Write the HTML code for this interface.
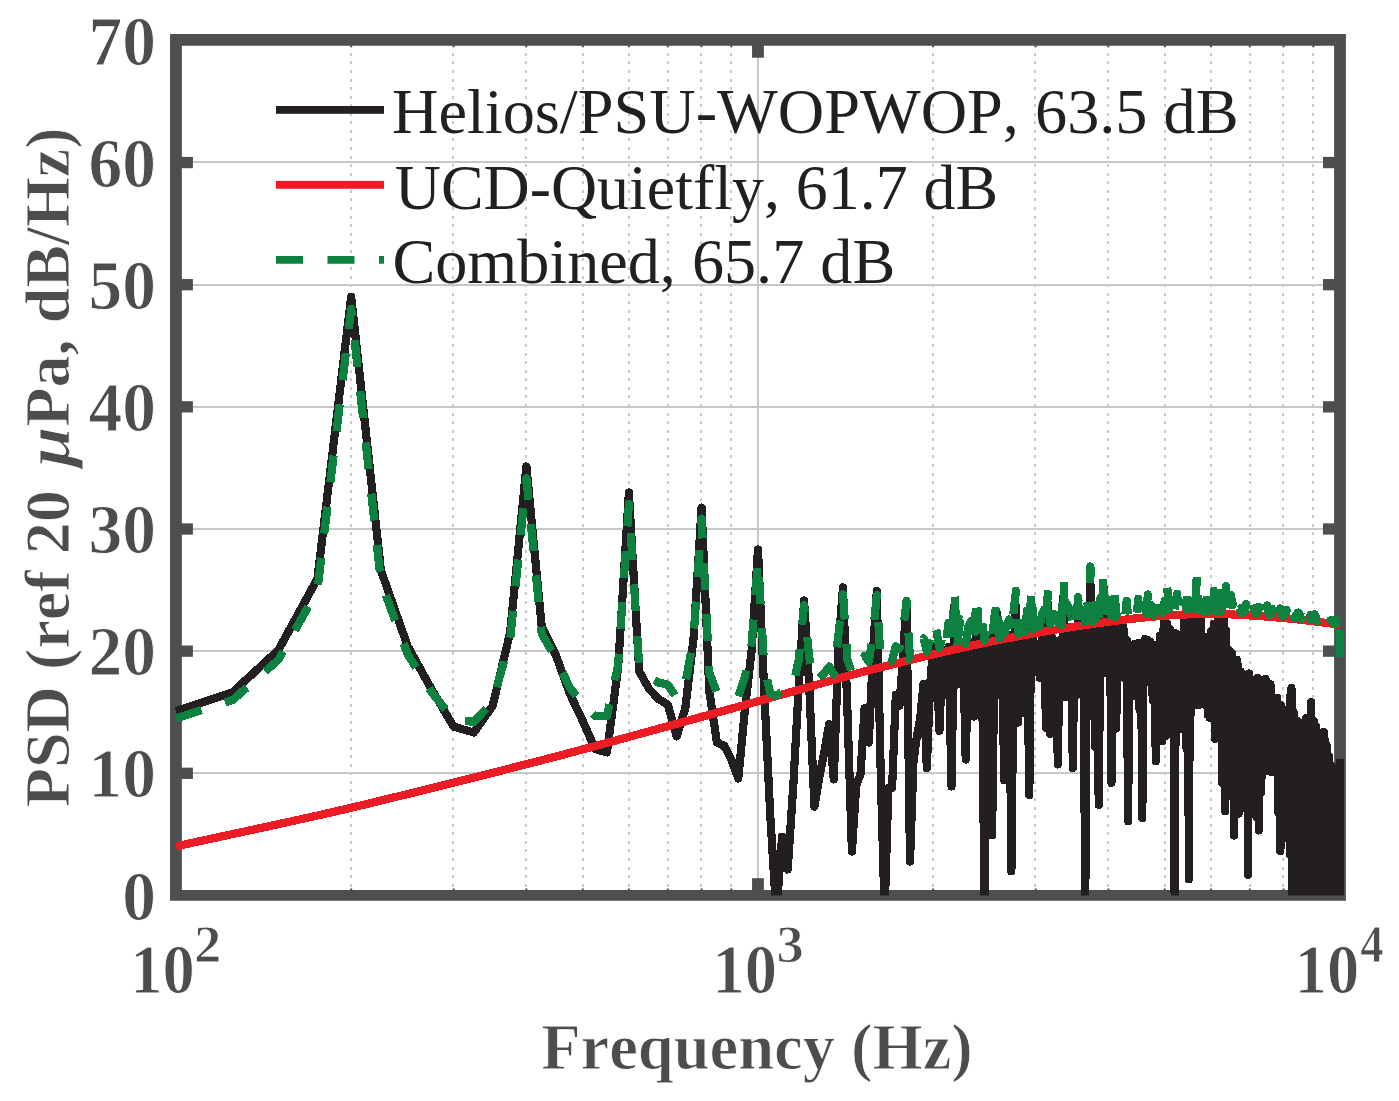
<!DOCTYPE html>
<html><head><meta charset="utf-8"><title>PSD</title>
<style>html,body{margin:0;padding:0;background:#fff}svg{display:block}</style></head>
<body><svg width="1399" height="1101" viewBox="0 0 1399 1101">
<rect width="1399" height="1101" fill="#fff"/>
<rect x="182" y="161" width="1152" height="2" fill="#c6c7c9"/>
<rect x="182" y="284" width="1152" height="2" fill="#c6c7c9"/>
<rect x="182" y="406" width="1152" height="2" fill="#c6c7c9"/>
<rect x="182" y="528" width="1152" height="2" fill="#c6c7c9"/>
<rect x="182" y="650" width="1152" height="2" fill="#c6c7c9"/>
<rect x="182" y="772" width="1152" height="2" fill="#c6c7c9"/>
<rect x="757" y="45" width="2" height="846" fill="#c6c7c9"/>
<line x1="351" y1="895.2" x2="351" y2="40" stroke="#c9cacc" stroke-width="2" stroke-dasharray="3 5.565" shape-rendering="crispEdges"/>
<line x1="453" y1="895.2" x2="453" y2="40" stroke="#c9cacc" stroke-width="2" stroke-dasharray="3 5.565" shape-rendering="crispEdges"/>
<line x1="526" y1="895.2" x2="526" y2="40" stroke="#c9cacc" stroke-width="2" stroke-dasharray="3 5.565" shape-rendering="crispEdges"/>
<line x1="583" y1="895.2" x2="583" y2="40" stroke="#c9cacc" stroke-width="2" stroke-dasharray="3 5.565" shape-rendering="crispEdges"/>
<line x1="629" y1="895.2" x2="629" y2="40" stroke="#c9cacc" stroke-width="2" stroke-dasharray="3 5.565" shape-rendering="crispEdges"/>
<line x1="668" y1="895.2" x2="668" y2="40" stroke="#c9cacc" stroke-width="2" stroke-dasharray="3 5.565" shape-rendering="crispEdges"/>
<line x1="701" y1="895.2" x2="701" y2="40" stroke="#c9cacc" stroke-width="2" stroke-dasharray="3 5.565" shape-rendering="crispEdges"/>
<line x1="731" y1="895.2" x2="731" y2="40" stroke="#c9cacc" stroke-width="2" stroke-dasharray="3 5.565" shape-rendering="crispEdges"/>
<line x1="933" y1="895.2" x2="933" y2="40" stroke="#c9cacc" stroke-width="2" stroke-dasharray="3 5.565" shape-rendering="crispEdges"/>
<line x1="1035" y1="895.2" x2="1035" y2="40" stroke="#c9cacc" stroke-width="2" stroke-dasharray="3 5.565" shape-rendering="crispEdges"/>
<line x1="1108" y1="895.2" x2="1108" y2="40" stroke="#c9cacc" stroke-width="2" stroke-dasharray="3 5.565" shape-rendering="crispEdges"/>
<line x1="1165" y1="895.2" x2="1165" y2="40" stroke="#c9cacc" stroke-width="2" stroke-dasharray="3 5.565" shape-rendering="crispEdges"/>
<line x1="1211" y1="895.2" x2="1211" y2="40" stroke="#c9cacc" stroke-width="2" stroke-dasharray="3 5.565" shape-rendering="crispEdges"/>
<line x1="1250" y1="895.2" x2="1250" y2="40" stroke="#c9cacc" stroke-width="2" stroke-dasharray="3 5.565" shape-rendering="crispEdges"/>
<line x1="1283" y1="895.2" x2="1283" y2="40" stroke="#c9cacc" stroke-width="2" stroke-dasharray="3 5.565" shape-rendering="crispEdges"/>
<line x1="1313" y1="895.2" x2="1313" y2="40" stroke="#c9cacc" stroke-width="2" stroke-dasharray="3 5.565" shape-rendering="crispEdges"/>
<path fill="#4d4e50" fill-rule="evenodd" d="M170.05,34.05H1345.9V900.8H170.05Z M181.85,45.85V890H1334.1V45.85Z"/>
<rect x="181" y="767.65" width="11.9" height="11.3" fill="#4d4e50"/>
<rect x="1323.0" y="767.65" width="11.9" height="11.3" fill="#4d4e50"/>
<rect x="181" y="645.50" width="11.9" height="11.3" fill="#4d4e50"/>
<rect x="1323.0" y="645.50" width="11.9" height="11.3" fill="#4d4e50"/>
<rect x="181" y="523.35" width="11.9" height="11.3" fill="#4d4e50"/>
<rect x="1323.0" y="523.35" width="11.9" height="11.3" fill="#4d4e50"/>
<rect x="181" y="401.20" width="11.9" height="11.3" fill="#4d4e50"/>
<rect x="1323.0" y="401.20" width="11.9" height="11.3" fill="#4d4e50"/>
<rect x="181" y="279.05" width="11.9" height="11.3" fill="#4d4e50"/>
<rect x="1323.0" y="279.05" width="11.9" height="11.3" fill="#4d4e50"/>
<rect x="181" y="156.90" width="11.9" height="11.3" fill="#4d4e50"/>
<rect x="1323.0" y="156.90" width="11.9" height="11.3" fill="#4d4e50"/>
<rect x="752.07" y="878.2" width="11.8" height="12.5" fill="#4d4e50"/>
<rect x="752.07" y="45" width="11.8" height="12.7" fill="#4d4e50"/>
<rect x="350.16" y="45.5" width="2" height="1.8" fill="#4d4e50"/>
<rect x="350.16" y="888.5" width="2" height="1.8" fill="#4d4e50"/>
<rect x="452.65" y="45.5" width="2" height="1.8" fill="#4d4e50"/>
<rect x="452.65" y="888.5" width="2" height="1.8" fill="#4d4e50"/>
<rect x="525.36" y="45.5" width="2" height="1.8" fill="#4d4e50"/>
<rect x="525.36" y="888.5" width="2" height="1.8" fill="#4d4e50"/>
<rect x="581.77" y="45.5" width="2" height="1.8" fill="#4d4e50"/>
<rect x="581.77" y="888.5" width="2" height="1.8" fill="#4d4e50"/>
<rect x="627.85" y="45.5" width="2" height="1.8" fill="#4d4e50"/>
<rect x="627.85" y="888.5" width="2" height="1.8" fill="#4d4e50"/>
<rect x="666.82" y="45.5" width="2" height="1.8" fill="#4d4e50"/>
<rect x="666.82" y="888.5" width="2" height="1.8" fill="#4d4e50"/>
<rect x="700.57" y="45.5" width="2" height="1.8" fill="#4d4e50"/>
<rect x="700.57" y="888.5" width="2" height="1.8" fill="#4d4e50"/>
<rect x="730.34" y="45.5" width="2" height="1.8" fill="#4d4e50"/>
<rect x="730.34" y="888.5" width="2" height="1.8" fill="#4d4e50"/>
<rect x="932.18" y="45.5" width="2" height="1.8" fill="#4d4e50"/>
<rect x="932.18" y="888.5" width="2" height="1.8" fill="#4d4e50"/>
<rect x="1034.67" y="45.5" width="2" height="1.8" fill="#4d4e50"/>
<rect x="1034.67" y="888.5" width="2" height="1.8" fill="#4d4e50"/>
<rect x="1107.39" y="45.5" width="2" height="1.8" fill="#4d4e50"/>
<rect x="1107.39" y="888.5" width="2" height="1.8" fill="#4d4e50"/>
<rect x="1163.79" y="45.5" width="2" height="1.8" fill="#4d4e50"/>
<rect x="1163.79" y="888.5" width="2" height="1.8" fill="#4d4e50"/>
<rect x="1209.88" y="45.5" width="2" height="1.8" fill="#4d4e50"/>
<rect x="1209.88" y="888.5" width="2" height="1.8" fill="#4d4e50"/>
<rect x="1248.84" y="45.5" width="2" height="1.8" fill="#4d4e50"/>
<rect x="1248.84" y="888.5" width="2" height="1.8" fill="#4d4e50"/>
<rect x="1282.60" y="45.5" width="2" height="1.8" fill="#4d4e50"/>
<rect x="1282.60" y="888.5" width="2" height="1.8" fill="#4d4e50"/>
<rect x="1312.37" y="45.5" width="2" height="1.8" fill="#4d4e50"/>
<rect x="1312.37" y="888.5" width="2" height="1.8" fill="#4d4e50"/>
<clipPath id="c"><rect x="168" y="30" width="1180" height="865.4"/></clipPath>
<g clip-path="url(#c)" fill="none" stroke-linejoin="round" stroke-linecap="butt" stroke-width="8.2" shape-rendering="crispEdges">
<path d="M175.9,711.1 L232.4,692.4 L278.4,650.0 L317.4,578.8 L351.2,296.7 L380.9,570.3 L407.6,646.0 L431.7,689.6 L453.6,726.6 L473.9,732.5 L492.6,705.9 L510.1,632.6 L526.4,466.5 L541.7,626.5 L556.1,655.8 L569.8,693.7 L582.8,721.0 L595.1,749.0 L606.9,752.4 L618.1,668.0 L628.9,492.5 L639.2,671.3 L649.1,689.0 L658.6,699.1 L667.8,704.6 L676.7,736.4 L685.3,708.3 L693.5,638.7 L701.6,507.6 L709.3,691.2 L716.9,742.5 L724.2,745.8 L731.3,759.6 L738.3,778.5 L745.0,708.3 L751.6,650.9 L758.0,549.5 L764.2,691.2 L770.3,815.8 L776.3,913.5 L782.1,836.6 L787.7,869.5 L793.3,785.3 L798.7,687.5 L804.1,600.5 L809.3,687.5 L814.4,806.6 L819.4,776.7 L824.3,751.8 L829.1,724.2 L833.8,779.5 L838.5,644.8 L843.0,587.4 L847.5,712.0 L851.9,851.6 L856.2,785.3 L860.5,774.3 L864.6,708.3 L868.8,742.5 L872.8,655.8 L876.8,591.0 L880.7,771.8 L884.6,913.5 L888.4,787.7 L892.1,787.7 L895.8,694.9 L899.4,705.9 L903.0,657.0 L906.5,602.0 L910.0,861.5 L913.5,760.8 L916.9,736.4 L920.2,718.1 L923.5,683.9 L926.8,768.2 L930.0,687.5 L933.2,646.0 L936.3,652.8 L939.4,730.9 L942.5,655.0 L945.5,652.1 L948.5,647.2 L951.5,786.5 L954.4,605.7 L957.3,684.6 L960.1,644.9 L963.0,643.3 L965.7,759.6 L968.5,648.9 L971.2,641.8 L973.9,716.6 L976.6,611.8 L979.3,705.1 L981.9,649.3 L984.5,913.5 L987.0,640.4 L989.6,638.2 L992.1,835.3 L994.6,643.4 L997.1,613.5 L999.5,694.7 L1001.9,654.9 L1004.3,780.4 L1006.7,635.6 L1009.0,635.3 L1011.4,871.4 L1013.7,649.9 L1016.0,606.3 L1018.2,722.6 L1020.5,631.4 L1022.7,713.2 L1024.9,688.1 L1027.1,633.5 L1029.3,795.0 L1031.4,603.3 L1033.6,662.1 L1035.7,643.7 L1037.8,658.8 L1039.8,677.9 L1041.9,633.8 L1044.0,629.5 L1046.0,727.9 L1048.0,603.3 L1050.0,733.8 L1052.0,637.0 L1054.0,715.1 L1055.9,643.8 L1057.8,764.5 L1059.8,640.1 L1061.7,684.1 L1063.6,594.7 L1065.4,697.2 L1067.3,635.1 L1069.2,641.7 L1071.0,627.3 L1072.8,768.2 L1074.6,631.6 L1076.4,695.0 L1078.2,610.6 L1080.0,676.8 L1081.8,641.0 L1083.5,626.1 L1085.2,913.5 L1087.0,626.5 L1088.7,713.4 L1090.4,582.5 L1092.1,715.1 L1093.8,637.2 L1095.4,747.3 L1097.1,625.3 L1098.7,804.8 L1100.4,628.7 L1102.0,673.2 L1103.6,587.4 L1105.2,673.2 L1106.8,629.6 L1108.4,635.6 L1110.0,635.9 L1111.5,782.8 L1113.1,629.3 L1114.6,604.5 L1116.2,728.5 L1117.7,629.2 L1119.2,640.1 L1120.7,621.5 L1122.2,620.6 L1123.7,630.4 L1125.2,678.6 L1126.7,640.1 L1128.1,821.3 L1129.6,648.8 L1131.0,647.7 L1132.5,696.0 L1133.9,644.2 L1135.3,652.4 L1136.8,686.3 L1138.2,643.0 L1139.6,710.3 L1141.0,649.9 L1142.3,818.2 L1143.7,643.0 L1145.1,638.9 L1146.4,682.3 L1147.8,640.1 L1149.2,676.2 L1150.5,642.1 L1151.8,690.0 L1153.2,700.5 L1154.5,660.1 L1155.8,761.3 L1157.1,644.4 L1158.4,713.3 L1159.7,635.7 L1161.0,716.1 L1162.3,741.0 L1163.5,629.1 L1164.8,619.3 L1166.1,735.8 L1167.3,623.9 L1168.6,698.4 L1169.8,629.1 L1171.0,693.3 L1172.3,675.3 L1173.5,637.1 L1174.7,913.5 L1175.9,633.3 L1177.1,634.9 L1178.3,727.6 L1179.5,639.9 L1180.7,726.0 L1181.9,705.2 L1183.1,729.4 L1184.2,615.6 L1185.4,626.0 L1186.6,748.9 L1187.7,618.4 L1188.9,879.3 L1190.0,627.3 L1191.2,713.4 L1192.3,623.8 L1193.4,622.4 L1194.6,625.1 L1195.7,673.7 L1196.8,625.7 L1197.9,705.1 L1199.0,616.9 L1200.1,704.6 L1201.2,618.8 L1202.3,704.0 L1203.4,677.5 L1204.5,637.1 L1205.6,705.1 L1206.6,644.1 L1207.7,714.7 L1208.8,637.4 L1209.8,717.9 L1210.9,631.2 L1211.9,637.5 L1213.0,701.1 L1214.0,623.7 L1215.1,738.8 L1216.1,623.2 L1217.1,626.8 L1218.1,614.8 L1219.2,618.0 L1220.2,679.8 L1221.2,612.5 L1222.2,783.1 L1223.2,620.3 L1224.2,620.4 L1225.2,811.4 L1226.2,630.2 L1227.2,793.4 L1228.2,649.8 L1229.2,792.1 L1230.1,651.4 L1231.1,795.7 L1232.1,653.9 L1233.0,666.3 L1234.0,835.6 L1235.0,672.0 L1235.9,803.4 L1236.9,659.7 L1237.8,666.7 L1238.8,813.7 L1239.7,807.9 L1240.7,671.7 L1241.6,808.1 L1242.5,680.7 L1243.4,700.6 L1244.4,799.1 L1245.3,685.0 L1246.2,792.4 L1247.1,699.9 L1248.0,875.0 L1248.9,673.5 L1249.8,814.4 L1250.7,694.8 L1251.6,764.1 L1252.5,734.7 L1253.4,716.9 L1254.3,681.9 L1255.2,681.1 L1256.1,679.4 L1257.0,817.4 L1257.8,678.0 L1258.7,830.5 L1259.6,684.5 L1260.5,792.0 L1261.3,792.1 L1262.2,695.9 L1263.0,757.2 L1263.9,689.7 L1264.7,687.1 L1265.6,678.8 L1266.4,771.2 L1267.3,700.1 L1268.1,746.2 L1269.0,751.0 L1269.8,683.9 L1270.6,684.2 L1271.5,758.9 L1272.3,772.4 L1273.1,704.5 L1273.9,698.4 L1274.8,765.4 L1275.6,762.6 L1276.4,711.2 L1277.2,697.9 L1278.0,812.1 L1278.8,726.1 L1279.6,713.9 L1280.4,851.2 L1281.2,705.3 L1282.0,718.0 L1282.8,708.9 L1283.6,832.3 L1284.4,822.7 L1285.2,829.7 L1286.0,830.4 L1286.7,822.7 L1287.5,810.6 L1288.3,808.6 L1289.1,806.9 L1289.8,854.0 L1290.6,694.4 L1291.4,688.0 L1292.1,905.0 L1292.9,903.7 L1293.7,712.2 L1294.4,726.2 L1295.2,913.5 L1295.9,734.0 L1296.7,917.3 L1297.4,917.7 L1298.2,721.4 L1298.9,725.5 L1299.7,845.4 L1300.4,722.6 L1301.1,726.2 L1301.9,739.6 L1302.6,727.6 L1303.3,845.1 L1304.1,897.8 L1304.8,935.0 L1305.5,915.8 L1306.2,718.1 L1307.0,943.4 L1307.7,717.5 L1308.4,724.4 L1309.1,727.7 L1309.8,925.6 L1310.5,918.5 L1311.3,702.2 L1312.0,913.6 L1312.7,729.2 L1313.4,916.9 L1314.1,721.4 L1314.8,940.1 L1315.5,937.4 L1316.2,726.6 L1316.9,934.9 L1317.5,753.6 L1318.2,753.3 L1318.9,925.3 L1319.6,935.9 L1320.3,752.1 L1321.0,739.0 L1321.7,750.0 L1322.3,937.3 L1323.0,747.7 L1323.7,731.7 L1324.4,756.6 L1325.0,739.8 L1325.7,756.3 L1326.4,744.8 L1327.0,746.4 L1327.7,774.1 L1328.4,755.0 L1329.0,756.5 L1329.7,766.9 L1330.3,773.2 L1331.0,936.2 L1331.6,775.8 L1332.3,766.5 L1333.0,779.5 L1333.6,925.8 L1334.2,925.8 L1334.9,918.9 L1335.5,926.1 L1336.2,928.8 L1336.8,930.7 L1337.5,920.4 L1338.1,774.3 L1338.7,771.2 L1339.4,916.2 L1340.0,758.6" stroke="#231f20"/>
<path d="M175.9,846.34 L181.8,845.08 L187.6,843.81 L193.4,842.54 L199.2,841.28 L205.1,840.02 L210.9,838.76 L216.7,837.51 L222.5,836.25 L228.3,835.00 L234.2,833.74 L240.0,832.49 L245.8,831.23 L251.6,829.97 L257.4,828.71 L263.3,827.45 L269.1,826.19 L274.9,824.92 L280.7,823.65 L286.5,822.37 L292.4,821.09 L298.2,819.81 L304.0,818.51 L309.8,817.22 L315.6,815.91 L321.5,814.60 L327.3,813.28 L333.1,811.95 L338.9,810.61 L344.7,809.26 L350.6,807.89 L356.4,806.50 L362.2,805.11 L368.0,803.70 L373.8,802.29 L379.7,800.87 L385.5,799.45 L391.3,798.02 L397.1,796.60 L402.9,795.17 L408.8,793.74 L414.6,792.31 L420.4,790.87 L426.2,789.43 L432.0,787.99 L437.9,786.54 L443.7,785.09 L449.5,783.64 L455.3,782.19 L461.1,780.73 L467.0,779.27 L472.8,777.80 L478.6,776.34 L484.4,774.87 L490.2,773.39 L496.1,771.92 L501.9,770.44 L507.7,768.96 L513.5,767.48 L519.3,766.00 L525.2,764.51 L531.0,763.01 L536.8,761.51 L542.6,760.00 L548.4,758.49 L554.3,756.97 L560.1,755.44 L565.9,753.90 L571.7,752.35 L577.5,750.80 L583.4,749.24 L589.2,747.67 L595.0,746.10 L600.8,744.53 L606.6,742.95 L612.5,741.36 L618.3,739.78 L624.1,738.19 L629.9,736.60 L635.7,735.00 L641.6,733.41 L647.4,731.82 L653.2,730.22 L659.0,728.62 L664.9,727.02 L670.7,725.42 L676.5,723.82 L682.3,722.22 L688.1,720.61 L694.0,719.01 L699.8,717.40 L705.6,715.79 L711.4,714.18 L717.2,712.57 L723.1,710.95 L728.9,709.34 L734.7,707.72 L740.5,706.11 L746.3,704.49 L752.2,702.87 L758.0,701.25 L763.8,699.62 L769.6,698.00 L775.4,696.37 L781.3,694.75 L787.1,693.12 L792.9,691.49 L798.7,689.86 L804.5,688.22 L810.4,686.57 L816.2,684.90 L822.0,683.23 L827.8,681.55 L833.6,679.89 L839.5,678.25 L845.3,676.63 L851.1,675.03 L856.9,673.47 L862.7,671.93 L868.6,670.42 L874.4,668.93 L880.2,667.46 L886.0,666.00 L891.8,664.54 L897.7,663.09 L903.5,661.63 L909.3,660.19 L915.1,658.76 L920.9,657.33 L926.8,655.92 L932.6,654.52 L938.4,653.15 L944.2,651.79 L950.0,650.45 L955.9,649.13 L961.7,647.84 L967.5,646.57 L973.3,645.31 L979.1,644.08 L985.0,642.86 L990.8,641.66 L996.6,640.47 L1002.4,639.31 L1008.2,638.17 L1014.1,637.04 L1019.9,635.94 L1025.7,634.86 L1031.5,633.81 L1037.3,632.77 L1043.2,631.76 L1049.0,630.76 L1054.8,629.79 L1060.6,628.83 L1066.4,627.89 L1072.3,626.97 L1078.1,626.07 L1083.9,625.19 L1089.7,624.34 L1095.5,623.50 L1101.4,622.68 L1107.2,621.89 L1113.0,621.11 L1118.8,620.36 L1124.7,619.64 L1130.5,618.95 L1136.3,618.30 L1142.1,617.69 L1147.9,617.12 L1153.8,616.59 L1159.6,616.12 L1165.4,615.69 L1171.2,615.28 L1177.0,614.91 L1182.9,614.59 L1188.7,614.32 L1194.5,614.10 L1200.3,613.96 L1206.1,613.89 L1212.0,613.90 L1217.8,613.99 L1223.6,614.14 L1229.4,614.35 L1235.2,614.61 L1241.1,614.91 L1246.9,615.25 L1252.7,615.61 L1258.5,615.99 L1264.3,616.39 L1270.2,616.85 L1276.0,617.35 L1281.8,617.89 L1287.6,618.46 L1293.4,619.06 L1299.3,619.67 L1305.1,620.31 L1310.9,620.99 L1316.7,621.71 L1322.5,622.44 L1328.4,623.18 L1334.2,623.92 L1340.0,624.64" stroke="#ed1c24"/>
<path d="M175.9,718.4 L232.4,700.2 L278.4,659.8 L317.4,590.3 L351.2,308.9 L380.9,581.6 L407.6,654.3 L431.7,692.3 L453.6,719.6 L473.9,721.9 L492.6,701.9 L510.1,639.9 L526.4,478.4 L541.7,633.6 L556.1,658.8 L569.8,687.6 L582.8,703.9 L595.1,716.3 L606.9,715.9 L618.1,665.3 L628.9,504.0 L639.2,666.2 L649.1,677.4 L658.6,682.6 L667.8,684.6 L676.7,698.0 L685.3,684.2 L693.5,638.0 L701.6,518.6 L709.3,672.2 L716.9,693.0 L724.2,692.7 L731.3,694.9 L738.3,697.1 L745.0,676.1 L751.6,644.1 L758.0,560.3 L764.2,666.0 L770.3,693.7 L776.3,695.5 L782.1,691.9 L787.7,691.5 L793.3,685.1 L798.7,659.8 L804.1,605.2 L809.3,658.4 L814.4,681.7 L819.4,677.8 L824.3,673.3 L829.1,666.7 L833.8,674.5 L838.5,634.0 L843.0,594.4 L847.5,660.0 L851.9,673.5 L856.2,669.4 L860.5,667.4 L864.6,655.7 L868.8,661.7 L872.8,635.5 L876.8,595.2 L880.7,662.5 L884.6,666.0 L888.4,661.9 L892.1,661.0 L895.8,646.3 L899.4,648.5 L903.0,631.9 L906.5,600.9 L910.0,659.2 L913.5,654.0 L916.9,650.5 L920.2,646.9 L923.5,638.3 L926.8,651.7 L930.0,638.2 L933.2,622.9 L936.3,630.1 L939.4,647.9 L942.5,636.6 L945.5,647.9 L948.5,622.9 L951.5,648.1 L954.4,591.2 L957.3,646.5 L960.1,619.2 L963.0,622.1 L965.7,644.0 L968.5,626.0 L971.2,620.7 L973.9,641.4 L976.6,595.8 L979.3,638.0 L981.9,620.4 L984.5,640.5 L987.0,627.3 L989.6,623.5 L992.1,636.7 L994.6,615.6 L997.1,599.2 L999.5,637.8 L1001.9,619.9 L1004.3,633.8 L1006.7,625.0 L1009.0,619.6 L1011.4,633.5 L1013.7,610.7 L1016.0,590.8 L1018.2,633.2 L1020.5,613.1 L1022.7,629.3 L1024.9,631.8 L1027.1,610.6 L1029.3,630.3 L1031.4,587.8 L1033.6,629.2 L1035.7,611.8 L1037.8,627.1 L1039.8,626.2 L1041.9,614.7 L1044.0,609.9 L1046.0,626.6 L1048.0,588.7 L1050.0,624.1 L1052.0,609.2 L1054.0,627.8 L1055.9,615.0 L1057.8,622.6 L1059.8,603.9 L1061.7,624.9 L1063.6,579.6 L1065.4,624.0 L1067.3,604.6 L1069.2,608.3 L1071.0,612.5 L1072.8,624.4 L1074.6,612.3 L1076.4,620.2 L1078.2,597.2 L1080.0,621.3 L1081.8,609.3 L1083.5,611.7 L1085.2,621.8 L1087.0,596.8 L1088.7,618.3 L1090.4,566.5 L1092.1,621.3 L1093.8,596.3 L1095.4,619.3 L1097.1,604.4 L1098.7,621.2 L1100.4,598.2 L1102.0,618.0 L1103.6,571.4 L1105.2,617.8 L1106.8,596.8 L1108.4,600.4 L1110.0,609.8 L1111.5,615.7 L1113.1,601.4 L1114.6,589.0 L1116.2,616.9 L1117.7,606.1 L1119.2,606.9 L1120.7,611.2 L1122.2,612.9 L1123.7,610.7 L1125.2,616.1 L1126.7,600.9 L1128.1,616.6 L1129.6,610.3 L1131.0,611.0 L1132.5,612.6 L1133.9,609.9 L1135.3,609.6 L1136.8,614.7 L1138.2,598.8 L1139.6,612.0 L1141.0,606.5 L1142.3,613.5 L1143.7,609.6 L1145.1,607.7 L1146.4,614.1 L1147.8,594.5 L1149.2,615.1 L1150.5,604.7 L1151.8,614.2 L1153.2,614.7 L1154.5,607.5 L1155.8,610.4 L1157.1,597.8 L1158.4,612.6 L1159.7,608.1 L1161.0,611.6 L1162.3,612.5 L1163.5,605.1 L1164.8,601.1 L1166.1,609.6 L1167.3,587.2 L1168.6,610.0 L1169.8,602.5 L1171.0,611.7 L1172.3,613.2 L1173.5,606.8 L1174.7,609.8 L1175.9,600.9 L1177.1,593.8 L1178.3,608.2 L1179.5,602.8 L1180.7,611.8 L1181.9,611.8 L1183.1,609.7 L1184.2,603.3 L1185.4,601.5 L1186.6,609.4 L1187.7,589.6 L1188.9,609.2 L1190.0,601.1 L1191.2,608.7 L1192.3,606.3 L1193.4,598.8 L1194.6,593.8 L1195.7,608.3 L1196.8,573.8 L1197.9,610.2 L1199.0,593.2 L1200.1,611.3 L1201.2,602.2 L1202.3,607.7 L1203.4,611.4 L1204.5,602.4 L1205.6,608.9 L1206.6,593.2 L1207.7,611.4 L1208.8,604.7 L1209.8,608.9 L1210.9,604.5 L1211.9,601.6 L1213.0,607.8 L1214.0,590.8 L1215.1,610.9 L1216.1,603.5 L1217.1,605.4 L1218.1,600.3 L1219.2,598.7 L1220.2,611.6 L1221.2,580.8 L1222.2,610.0 L1223.2,597.9 L1224.2,598.9 L1225.2,607.9 L1226.2,586.2 L1227.2,609.9 L1228.2,601.7 L1229.2,611.6 L1230.1,596.9 L1231.1,595.2 L1232.1,605.4 L1233.0,604.3 L1234.0,611.2 L1235.0,611.1 L1235.9,612.0 L1236.9,607.0 L1237.8,608.4 L1238.8,603.0 L1239.7,609.5 L1240.7,608.5 L1241.6,613.1 L1242.5,612.8 L1243.4,612.6 L1244.4,608.5 L1245.3,609.4 L1246.2,604.0 L1247.1,609.2 L1248.0,608.7 L1248.9,613.0 L1249.8,612.1 L1250.7,612.1 L1251.6,605.1 L1252.5,607.7 L1253.4,601.8 L1254.3,609.1 L1255.2,608.1 L1256.1,613.4 L1257.0,611.9 L1257.8,612.1 L1258.7,606.7 L1259.6,608.7 L1260.5,603.1 L1261.3,610.2 L1262.2,610.8 L1263.0,614.7 L1263.9,613.2 L1264.7,613.4 L1265.6,607.8 L1266.4,610.3 L1267.3,605.5 L1268.1,611.6 L1269.0,611.3 L1269.8,615.4 L1270.6,613.5 L1271.5,613.6 L1272.3,608.9 L1273.1,610.6 L1273.9,606.6 L1274.8,613.1 L1275.6,612.4 L1276.4,616.0 L1277.2,614.4 L1278.0,613.8 L1278.8,608.7 L1279.6,612.0 L1280.4,608.6 L1281.2,613.9 L1282.0,614.3 L1282.8,616.8 L1283.6,615.1 L1284.4,614.6 L1285.2,610.5 L1286.0,612.6 L1286.7,610.0 L1287.5,615.3 L1288.3,615.5 L1289.1,617.2 L1289.8,615.5 L1290.6,615.9 L1291.4,610.4 L1292.1,613.6 L1292.9,611.0 L1293.7,616.4 L1294.4,616.7 L1295.2,618.5 L1295.9,615.9 L1296.7,616.5 L1297.4,612.9 L1298.2,615.1 L1298.9,612.6 L1299.7,616.9 L1300.4,617.8 L1301.1,619.1 L1301.9,616.4 L1302.6,616.9 L1303.3,612.9 L1304.1,616.2 L1304.8,614.9 L1305.5,618.0 L1306.2,618.4 L1307.0,619.8 L1307.7,616.9 L1308.4,617.5 L1309.1,613.6 L1309.8,617.1 L1310.5,615.0 L1311.3,619.4 L1312.0,618.7 L1312.7,620.2 L1313.4,618.3 L1314.1,618.3 L1314.8,614.4 L1315.5,617.9 L1316.2,617.2 L1316.9,619.9 L1317.5,620.5 L1318.2,621.1 L1318.9,619.2 L1319.6,619.4 L1320.3,616.3 L1321.0,618.9 L1321.7,618.1 L1322.3,620.7 L1323.0,621.3 L1323.7,621.6 L1324.4,620.1 L1325.0,620.2 L1325.7,618.2 L1326.4,620.3 L1327.0,620.3 L1327.7,621.8 L1328.4,622.0 L1329.0,622.7 L1329.7,620.9 L1330.3,621.0 L1331.0,620.0 L1331.6,621.2 L1332.3,621.2 L1333.0,622.9 L1333.6,622.5 L1334.2,623.2 L1334.9,621.7 L1335.5,622.0 L1336.2,619.8 L1336.8,622.5" stroke="#0c8140" stroke-dasharray="27 24.5"/>
<path d="M1339.6,629.6 L1340.0,657.0" stroke="#0c8140"/>
</g>
<rect x="276" y="106" width="108" height="7.8" fill="#231f20"/>
<rect x="276" y="180.9" width="108" height="7.9" fill="#ed1c24"/>
<path d="M276,259.9H384" stroke="#0c8140" stroke-width="7.8" stroke-dasharray="27 24.5" fill="none"/>
<g font-family="Liberation Serif, serif" style="font-kerning:none" font-size="64.1" fill="#231f20">
<text x="392.0" y="133.4" font-size="64.3">Helios/PSU-WOPWOP, 63.5 dB</text>
<text x="394.8" y="209" font-size="63.9">UCD-Quietfly, 61.7 dB</text>
<text x="392.4" y="283.3" font-size="64.2">Combined, 65.7 dB</text>
</g>
<g font-family="Liberation Serif, serif" style="font-kerning:none" font-weight="bold" font-size="67.5" fill="#4d4d4f" stroke="#fff" stroke-width="0.9" stroke-linejoin="round">
<text transform="translate(156.0,919.5) scale(1,1.045)" text-anchor="end">0</text>
<text transform="translate(156.0,797.4) scale(1,1.045)" text-anchor="end">10</text>
<text transform="translate(156.0,675.2) scale(1,1.045)" text-anchor="end">20</text>
<text transform="translate(156.0,553.0) scale(1,1.045)" text-anchor="end">30</text>
<text transform="translate(156.0,430.9) scale(1,1.045)" text-anchor="end">40</text>
<text transform="translate(156.0,308.8) scale(1,1.045)" text-anchor="end">50</text>
<text transform="translate(156.0,186.6) scale(1,1.045)" text-anchor="end">60</text>
<text transform="translate(156.0,64.5) scale(1,1.045)" text-anchor="end">70</text>
<text transform="translate(130.3,992.6) scale(0.955,1.045)">10</text>
<text transform="translate(194.0,961.7) scale(1.05,1.0)" font-size="52">2</text>
<text transform="translate(712.5,992.6) scale(0.955,1.045)">10</text>
<text transform="translate(776.4,961.7) scale(1.05,1.0)" font-size="52">3</text>
<text transform="translate(1294.7,992.6) scale(0.955,1.045)">10</text>
<text transform="translate(1360.3,961.7) scale(0.90,1.0)" font-size="52">4</text>
<text x="757" y="1068.8" text-anchor="middle" font-size="64.5">Frequency (Hz)</text>
<text transform="translate(69.3,467.3) rotate(-90)" text-anchor="middle" font-size="64.15">PSD (ref 20 <tspan font-style="italic" dx="7.5" textLength="40" lengthAdjust="spacingAndGlyphs">μ</tspan>Pa, dB/Hz)</text>
</g>
</svg></body></html>
